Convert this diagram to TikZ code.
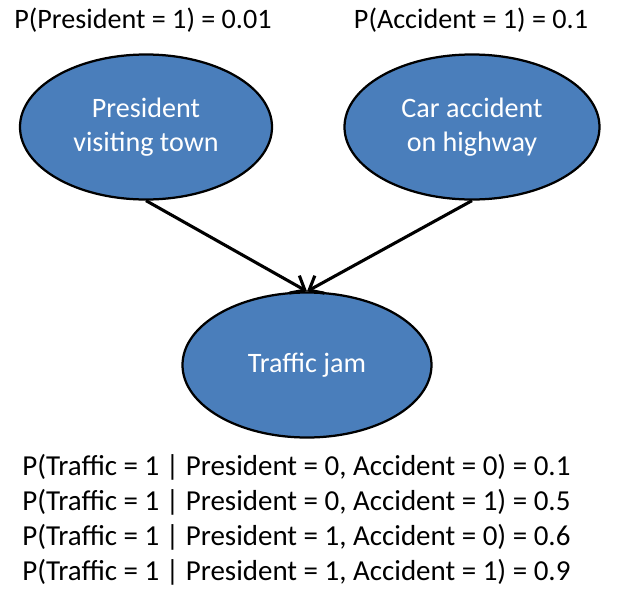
\documentclass[tikz,border=0pt]{standalone}
\usepackage{fontspec}
\setmainfont{Carlito}
\usetikzlibrary{arrows.meta,shapes.geometric}
\definecolor{nodoblu}{HTML}{4A7EBB}
\tikzset{
  nodo/.style  = {ellipse, draw=black, line width=1.6pt, fill=nodoblu, text=white, align=center, minimum height=36.25mm, inner sep=0, font=\fontsize{20}{24}\selectfont},
  prob/.style  = {font=\fontsize{20}{24}\selectfont, inner sep=0},
  cpt/.style   = {prob, anchor=west, font=\fontsize{20.6}{24}\selectfont},
  arco/.style  = {line width=2.2pt, -{Straight Barb[length=3mm,width=5mm,line width=2.2pt]}}
}

\begin{document}
\begin{tikzpicture}

  \useasboundingbox (0,0) rectangle (15.75,-15.15);

  % genitori
  \node[nodo, minimum width=63mm]   (pres) at (3.65,-3.175)  {President\\visiting town};
  \node[nodo, minimum width=63.75mm] (acc)  at (11.8,-3.175)  {Car accident\\on highway};
  \node[prob] (ppres) at (3.575,-0.5)  {P(President = 1) = 0.01};
  \node[prob] (pacc)  at (11.775,-0.5) {P(Accident = 1) = 0.1};

  % figlio
  \node[nodo, minimum width=62.25mm] (traffic) at (7.675,-9.125) {Traffic jam};
  \draw[arco] (pres.south) -- (traffic.north);
  \draw[arco] (acc.south)  -- (traffic.north);

  % tabella condizionata
  \node[cpt] (cpt1) at (0.55,-11.675) {P(Traffic = 1 | President = 0, Accident = 0) = 0.1};
  \node[cpt] (cpt2) at (0.55,-12.55)  {P(Traffic = 1 | President = 0, Accident = 1) = 0.5};
  \node[cpt] (cpt3) at (0.55,-13.425) {P(Traffic = 1 | President = 1, Accident = 0) = 0.6};
  \node[cpt] (cpt4) at (0.55,-14.3)   {P(Traffic = 1 | President = 1, Accident = 1) = 0.9};

\end{tikzpicture}
\end{document}
